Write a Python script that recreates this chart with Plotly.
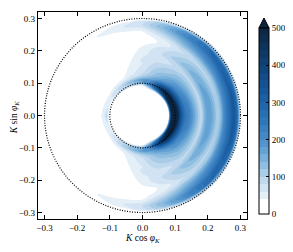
import numpy as np
import plotly.graph_objects as go

# radial grid (K) and angular grid (phi, degrees) of the sampled distribution
K_vals = [0.08, 0.09, 0.10, 0.11, 0.12, 0.13, 0.14, 0.15, 0.16, 0.17, 0.18, 0.19, 0.20,
          0.21, 0.22, 0.23, 0.24, 0.25, 0.26, 0.27, 0.28, 0.29, 0.30, 0.31, 0.32]
phi_half = [0, 15, 30, 45, 60, 75, 90, 105, 120, 135, 150, 165, 180]

# values (upper half, the picture is mirror symmetric)
z_phi0   = [0, 560, 620, 460, 320, 250, 230, 200, 160, 120, 80, 140, 180, 170, 140, 100, 130, 210, 250, 290, 340, 280, 40, 0, 0]
z_phi15  = [0, 540, 600, 440, 310, 240, 220, 190, 150, 115, 85, 140, 175, 165, 135, 100, 130, 200, 240, 280, 330, 290, 60, 0, 0]
z_phi30  = [0, 500, 570, 400, 290, 220, 200, 170, 140, 110, 90, 130, 160, 150, 120, 95, 120, 180, 220, 260, 300, 300, 80, 0, 0]
z_phi45  = [0, 420, 520, 380, 260, 200, 180, 150, 130, 110, 90, 110, 140, 130, 110, 90, 110, 160, 200, 230, 270, 280, 90, 0, 0]
z_phi60  = [0, 300, 420, 300, 200, 160, 140, 120, 110, 95, 80, 90, 110, 100, 90, 75, 90, 130, 160, 190, 220, 200, 60, 0, 0]
z_phi75  = [0, 150, 250, 200, 150, 120, 110, 100, 90, 80, 70, 70, 75, 70, 60, 45, 50, 70, 100, 130, 150, 130, 30, 0, 0]
z_phi90  = [0, 10, 150, 180, 110, 80, 70, 65, 60, 65, 60, 55, 50, 45, 35, 25, 25, 30, 40, 60, 80, 70, 20, 0, 0]
z_phi105 = [0, 0, 120, 140, 80, 55, 50, 45, 40, 35, 30, 25, 20, 15, 15, 15, 15, 20, 30, 45, 55, 45, 10, 0, 0]
z_phi120 = [0, 0, 90, 110, 60, 35, 25, 20, 15, 10, 5, 0, 0, 0, 0, 0, 0, 5, 15, 30, 40, 30, 5, 0, 0]
z_phi135 = [0, 0, 60, 80, 50, 25, 10, 0, 0, 0, 0, 0, 0, 0, 0, 0, 0, 0, 0, 0, 0, 0, 0, 0, 0]
z_phi150 = [0, 0, 40, 60, 40, 20, 0, 0, 0, 0, 0, 0, 0, 0, 0, 0, 0, 0, 0, 0, 0, 0, 0, 0, 0]
z_phi165 = [0, 0, 30, 55, 45, 25, 0, 0, 0, 0, 0, 0, 0, 0, 0, 0, 0, 0, 0, 0, 0, 0, 0, 0, 0]
z_phi180 = [0, 0, 0, 90, 50, 35, 0, 0, 0, 0, 0, 0, 0, 0, 0, 0, 0, 0, 0, 0, 0, 0, 0, 0, 0]

z_half = [z_phi0, z_phi15, z_phi30, z_phi45, z_phi60, z_phi75, z_phi90,
          z_phi105, z_phi120, z_phi135, z_phi150, z_phi165, z_phi180]

circle_radii = [0.1, 0.3]
axis_ticks = [-0.3, -0.2, -0.1, 0.0, 0.1, 0.2, 0.3]
cbar_ticks = [0, 100, 200, 300, 400, 500]

# full angular range by mirroring the upper half
phi_full = [-p for p in phi_half[:0:-1]] + phi_half
z_full = [z_half[i] for i in range(len(phi_half) - 1, 0, -1)] + z_half

Kg, Pg = np.meshgrid(np.array(K_vals), np.radians(np.array(phi_full)))
X = Kg * np.cos(Pg)
Y = Kg * np.sin(Pg)

# colour stops given at data values, converted to the contour colour domain
lvl_start, lvl_end, lvl_size = 0, 500, 20
stop_vals = [-10, 22, 40, 80, 120, 160, 200, 250, 300, 350, 400, 450, 510]
stop_cols = ["#ffffff", "#ffffff", "#e6f0f9", "#c3daee", "#96c2e1", "#6aa6d6", "#4a8cc8",
             "#2f76b8", "#1e63a8", "#155393", "#11457b", "#0e3560", "#0b2540"]
lo, hi = stop_vals[0], stop_vals[-1]
colorscale = [[(v - lo) / (hi - lo), c] for v, c in zip(stop_vals, stop_cols)]

hidden_axis = dict(showgrid=False, showline=False, showticklabels="none",
                   startline=False, endline=False, gridcolor="rgba(0,0,0,0)",
                   minorgridcount=0, title=dict(text=""))

fig = go.Figure()
fig.add_trace(go.Carpet(
    a=K_vals, b=phi_full, x=X.tolist(), y=Y.tolist(), carpet="c1",
    aaxis=dict(hidden_axis, smoothing=0),
    baxis=dict(hidden_axis, smoothing=1),
))
fig.add_trace(go.Contourcarpet(
    a=K_vals, b=phi_full, z=z_full, carpet="c1",
    autocontour=False,
    contours=dict(start=lvl_start, end=lvl_end, size=lvl_size, coloring="fill", showlines=False),
    line=dict(width=0),
    colorscale=colorscale, zmin=0, zmax=500,
    colorbar=dict(
        x=1.0574, xanchor="left", y=0.0242, yanchor="bottom",
        len=0.8986, lenmode="fraction", thickness=10, xpad=0, ypad=0,
        outlinewidth=1, outlinecolor="black",
        tickvals=cbar_ticks, ticks="inside", ticklen=3, tickcolor="black",
        tickfont=dict(family="Liberation Serif", size=9, color="black"),
    ),
))

font_fam = "Liberation Serif"
common_axis = dict(
    range=[-0.32, 0.32], tickvals=axis_ticks, tickformat=".1f",
    ticks="inside", ticklen=4, tickcolor="black", tickwidth=1,
    showline=True, linecolor="black", linewidth=1.3, mirror="ticks",
    showgrid=False, zeroline=False,
    tickfont=dict(family=font_fam, size=9, color="black"),
)
# the page body adds an 8 px offset, so margins are shifted by that amount
fig.update_layout(
    width=293, height=252,
    margin=dict(l=30, r=54, t=4, b=41, autoexpand=False),
    paper_bgcolor="white", plot_bgcolor="white",
    showlegend=False,
    xaxis=common_axis,
    yaxis=common_axis,
    annotations=[
        dict(text="<i>K</i> cos <i>φ<sub>K</sub></i>", xref="paper", yref="paper",
             x=0.5, y=-0.092, xanchor="center", yanchor="middle", showarrow=False,
             font=dict(family=font_fam, size=9.5, color="black")),
        dict(text="<i>K</i> sin <i>φ<sub>K</sub></i>", xref="paper", yref="paper",
             x=-0.112, y=0.49, xanchor="center", yanchor="middle", showarrow=False,
             textangle=-90, font=dict(family=font_fam, size=9.5, color="black")),
    ],
)

for r in circle_radii:
    fig.add_shape(type="circle", xref="x", yref="y", x0=-r, y0=-r, x1=r, y1=r,
                  line=dict(color="black", width=1.2, dash="1px,1.5px"))

# extend-max triangle on top of the colour bar
fig.add_shape(type="path", xref="paper", yref="paper",
              path="M 1.0574 0.9228 L 1.1053 0.9228 L 1.0813 0.971 Z",
              fillcolor="#0b2540", line=dict(color="black", width=1))

fig.write_html("out.html")
